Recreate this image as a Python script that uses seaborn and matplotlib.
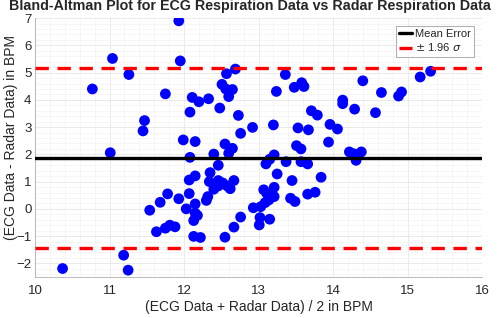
import matplotlib
matplotlib.use('Agg')
import matplotlib.pyplot as plt
import seaborn as sns
import pandas as pd
import numpy as np
from matplotlib.ticker import MultipleLocator

# Bland-Altman points: mean of the two methods (x) and their difference (y), in BPM
mean_bpm = [11.93, 11.04, 11.95, 11.26, 10.77, 11.75, 12.11, 12.20, 12.33, 12.08,
            11.47, 11.45, 11.99, 12.15, 11.01, 12.08, 12.57, 12.69, 12.51, 12.56,
            12.65, 12.60, 12.48, 12.73, 12.92, 12.76, 13.20, 13.24, 13.36, 13.48,
            13.58, 13.61, 13.71, 13.79, 13.53, 13.67, 13.96, 12.55, 12.65, 12.60,
            12.40, 12.46, 13.51, 13.57, 13.94, 13.21, 13.15, 13.10, 13.37, 13.57,
            13.66, 15.31, 15.17, 14.40, 14.65, 14.92, 14.88, 14.13, 14.13, 14.29,
            14.57, 14.06, 14.22, 14.38, 14.31, 14.28, 12.15, 12.07, 12.35, 12.34,
            11.78, 12.07, 11.93, 11.68, 12.15, 12.03, 12.30, 11.54, 12.15, 12.18,
            12.13, 11.81, 11.88, 11.75, 11.63, 12.13, 12.22, 11.19, 11.25, 10.37,
            12.46, 12.46, 12.58, 12.67, 12.62, 12.40, 12.32, 12.55, 12.67, 12.76,
            12.93, 13.03, 13.02, 13.01, 13.15, 13.09, 13.14, 13.11, 13.07, 13.21,
            13.21, 13.25, 13.45, 13.43, 13.49, 13.66, 13.76, 13.84, 12.52]
diff_bpm = [6.90, 5.52, 5.43, 4.93, 4.40, 4.22, 4.09, 3.93, 4.04, 3.55,
            3.24, 2.86, 2.53, 2.47, 2.06, 1.89, 4.96, 5.13, 4.57, 4.40,
            4.38, 4.12, 3.70, 3.43, 2.99, 2.77, 3.08, 4.31, 4.93, 4.46,
            4.63, 4.49, 3.60, 3.44, 2.97, 2.90, 3.10, 2.38, 2.22, 2.04,
            2.01, 1.60, 2.32, 2.20, 2.45, 1.98, 1.82, 1.65, 1.73, 1.73,
            1.65, 5.05, 4.84, 4.70, 4.27, 4.29, 4.14, 3.99, 3.86, 3.66,
            3.53, 2.93, 2.09, 2.09, 1.78, 2.02, 1.21, 1.06, 1.33, 1.00,
            0.55, 0.56, 0.37, 0.24, 0.18, 0.00, 0.31, -0.05, -0.16, -0.24,
            -0.43, -0.60, -0.66, -0.71, -0.84, -1.01, -1.05, -1.70, -2.25, -2.19,
            1.04, 0.84, 0.84, 1.04, 0.74, 0.72, 0.45, -1.04, -0.67, -0.30,
            0.04, 0.08, -0.32, -0.59, -0.38, 0.23, 0.33, 0.57, 0.70, 0.79,
            0.45, 1.28, 1.04, 0.39, 0.27, 0.54, 0.61, 1.16, 0.95]

mean_error = 1.87
limit_width = 3.30   # 1.96 * sigma

df = pd.DataFrame({'mean': mean_bpm, 'diff': diff_bpm})

sns.set_style('white')
plt.rcParams['font.family'] = ['Liberation Sans', 'DejaVu Sans']

fig = plt.figure(figsize=(5, 3.18), dpi=100)
ax = fig.add_axes([0.07, 0.129, 0.894, 0.814])

sns.scatterplot(data=df, x='mean', y='diff', ax=ax, color='#0000ff', s=60,
                edgecolor='none', linewidth=0, zorder=3, legend=False)

ax.axhline(mean_error, color='black', lw=2.4, zorder=4, label='Mean Error')
ax.axhline(mean_error + limit_width, color='#ff0000', lw=2.4, ls=(0, (4, 2.6)),
           zorder=4, label=r'$\pm$ 1.96 $\sigma$')
ax.axhline(mean_error - limit_width, color='#ff0000', lw=2.4, ls=(0, (4, 2.6)),
           zorder=4)

ax.set_xlim(10, 16)
ax.set_ylim(-2.5, 7)
ax.xaxis.set_major_locator(MultipleLocator(1))
ax.yaxis.set_major_locator(MultipleLocator(1))
ax.xaxis.set_minor_locator(MultipleLocator(0.2))
ax.yaxis.set_minor_locator(MultipleLocator(0.2))
ax.grid(True, which='major', color='#e6e6e6', lw=0.6, zorder=0)
ax.grid(True, which='minor', color='#f3f3f3', lw=0.5, zorder=0)
ax.set_axisbelow(True)

for side in ['top', 'right']:
    ax.spines[side].set_visible(False)
for side in ['left', 'bottom']:
    ax.spines[side].set_color('#b0b0b0')
    ax.spines[side].set_linewidth(0.6)
ax.tick_params(axis='both', which='major', direction='in', length=3,
               color='#808080', labelsize=9.5, labelcolor='#262626', pad=2.5)
ax.tick_params(axis='x', which='major', pad=6)
ax.tick_params(axis='both', which='minor', length=0)

ax.set_xlabel('(ECG Data + Radar Data) / 2 in BPM', fontsize=10, color='#262626')
ax.set_ylabel('(ECG Data - Radar Data) in BPM', fontsize=10, color='#262626')
ax.xaxis.set_label_coords(0.5, -0.088)
ax.yaxis.set_label_coords(-0.038, 0.54)
ax.set_title('Bland-Altman Plot for ECG Respiration Data vs Radar Respiration Data',
             fontsize=10.3, fontweight='bold', pad=5.5, x=0.48)

leg = ax.legend(loc='upper right', fontsize=8, handlelength=1.1, handletextpad=0.3,
                borderpad=0.3, labelspacing=0.2, borderaxespad=0.7, fancybox=False,
                framealpha=1)
leg.get_frame().set_edgecolor('#a0a0a0')
leg.get_frame().set_linewidth(0.6)

fig.savefig('out.png', dpi=100)
